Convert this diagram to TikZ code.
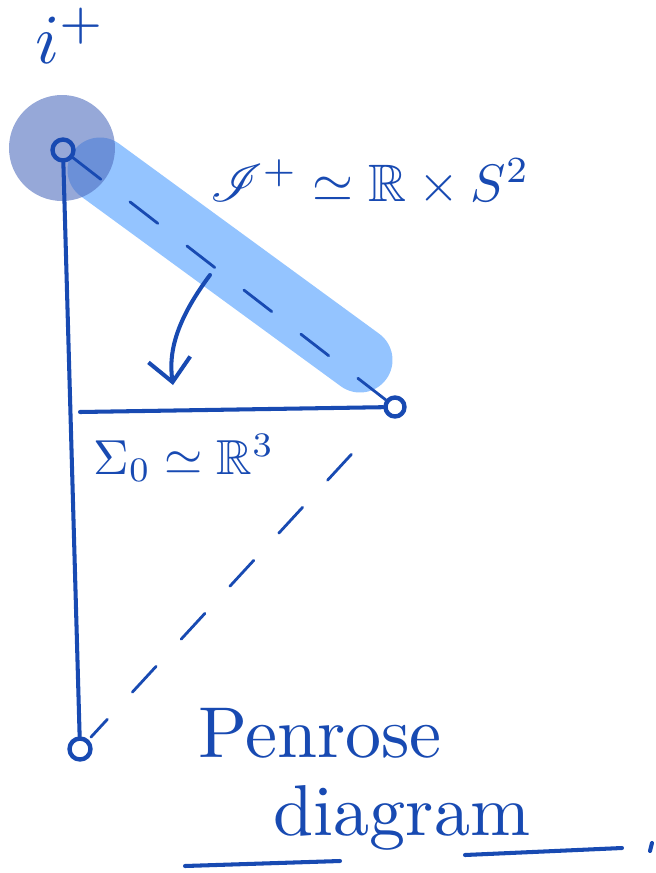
\documentclass[tikz,border=0pt]{standalone}
\usepackage{amssymb}
\usepackage{mathrsfs}
\usetikzlibrary{arrows.meta,positioning}

\definecolor{pen}{RGB}{24,74,178}
\definecolor{scrifill}{RGB}{148,196,255}
\definecolor{ptfill}{RGB}{80,110,190}

\begin{document}
\begin{tikzpicture}[
  x=0.02cm, y=-0.02cm,
  line cap=round, line join=round,
  ink/.style={draw=pen,line width=2.3pt},
  dashline/.style={draw=pen,line width=1.6pt,dash pattern=on 20pt off 21pt},
  pt/.style={circle,draw=pen,line width=2.5pt,minimum size=0.42cm,inner sep=0pt},
  lbl/.style={text=pen,inner sep=0pt},
]
\useasboundingbox (0,0) rectangle (656,873);

%% =============================================
%% Highlights: scri^+ band and i^+ blob
%% =============================================
\coordinate (bandstart) at (100,170);
\coordinate (bandend)   at (360,360);
\draw[scrifill,line width=37pt,line cap=round] (bandstart) -- (bandend);
\fill[ptfill,opacity=0.6] (62,148) circle (53);

%% =============================================
%% Points at infinity
%% =============================================
\node[pt] (iplus)  at (63,150)  {};
\node[pt,minimum size=0.38cm] (izero) at (395,407) {};
\node[pt] (iminus) at (80,749)  {};

% Sigma_0 slice
\coordinate (sigleft) at (80,412);

%% =============================================
%% Boundaries
%% =============================================
\draw[ink] (iplus) -- (iminus);
\draw[ink] (sigleft) -- (izero);
\draw[dashline] (iplus) -- (izero);
\draw[dashline,shorten <=30pt,shorten >=2pt] (izero) -- (iminus);

% push scri^+ down onto Sigma_0
\coordinate (arrtail) at (210,275);
\coordinate (arrhead) at (173,385);
\draw[ink,-{Straight Barb[length=13pt,width=24pt,line width=2.3pt]}]
  (arrtail) .. controls (178,318) and (168,350) .. (arrhead);

%% =============================================
%% Labels
%% =============================================
\node[lbl,scale=4]   (iplabel)    at (71,36)   {$i^+$};
\node[lbl,scale=3]   (scrilabel)  at (370,182) {$\mathscr{I}^+\simeq\mathbb{R}\times S^2$};
\node[lbl,scale=2.8] (sigmalabel) at (184,458) {$\Sigma_0\simeq\mathbb{R}^3$};

\node[lbl,scale=4.1] (penrose) at (320,733) {Penrose};
\node[lbl,scale=4.1] (diagram) at (402,818) {diagram};

% underline
\draw[ink] (185,866) -- (340,861);
\draw[ink] (465,855) -- (622,848);
\draw[ink] (652,843) -- (650,851);

\end{tikzpicture}
\end{document}
